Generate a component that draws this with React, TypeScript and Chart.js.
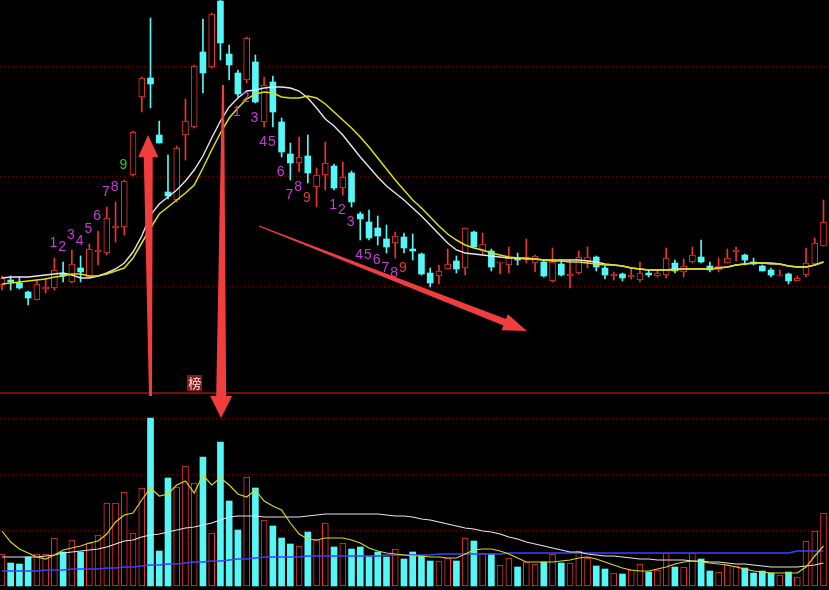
import { useEffect, useRef } from 'react';
import { Chart, registerables } from 'chart.js';

Chart.register(...registerables);

// ---- daily candles (price points) ----
const openP = [331,336,333,324,316,327,328,342,334,348, 339,364,363,388,389,441,519,538,481,424, 416,481,489,564,549,615,562,543,536,554, 494,534,494,462,453,460,429,441,450,428, 443,402,394,388,377,373,379,367,362,343, 340,347,355,348,384,365,365,353,351,358, 357,353,354,335,352,340,343,355,359,348, 340,342,339,336,343,340,341,353,344,354, 359,350,346,353,364,361,354,350,346,340, 342,335,341,352,370];
const closeP = [338,334,328,318,332,329,346,340,352,344, 367,366,398,390,435,484,538,532,473,420, 468,495,550,543,602,573,551,522,578,514, 531,504,464,453,459,443,441,453,428,439, 414,397,378,380,369,380,368,365,342,333, 345,352,347,388,369,372,349,354,358,356, 359,360,340,354,341,342,359,359,349,341, 342,338,341,343,341,343,358,345,350,361, 354,346,350,358,366,356,352,345,341,341, 335,338,353,373,394];
const highP = [340,340,339,325,335,338,358,354,366,360, 372,385,409,414,436,485,539,598,495,461, 470,517,551,597,603,624,571,546,579,561, 539,540,498,473,479,481,448,474,452,454, 445,404,406,400,391,384,383,382,363,348, 351,367,360,388,385,383,367,354,369,363, 377,361,355,368,356,356,365,369,360,350, 344,343,347,354,345,346,368,356,357,369, 376,354,358,367,369,362,358,351,348,346, 343,340,368,378,416];
const lowP = [326,326,327,311,316,323,326,334,333,334, 339,351,361,374,381,440,504,508,473,417, 414,456,488,523,548,556,536,519,533,513, 489,489,459,436,444,433,409,426,426,421, 409,376,376,371,363,358,363,356,341,329, 332,347,343,341,368,361,345,342,343,351, 353,344,339,334,340,328,342,348,345,337, 336,335,337,334,339,339,338,343,339,353, 353,344,344,353,355,351,351,345,339,340, 332,335,339,352,370];

// ---- price moving averages ----
const priceMaFast = [338,339,339,339,340,341,342,343,341,338, 338,340,343,347,353,364,380,401,412,419, 426,435,446,460,478,495,509,518,525,526, 528,529,529,528,525,518,508,497,490,481, 470,459,449,439,430,423,416,408,400,391, 382,373,366,363,362,361,360,359,358,358, 357,357,356,356,356,356,356,355,354,352, 351,350,348,347,346,346,346,347,347,347, 347,347,348,349,351,352,353,353,353,352, 350,349,349,351,354];
const priceMaSlow = [332,333,334,335,336,337,339,340,342,342, 340,340,342,345,348,358,373,388,402,409, 416,423,431,448,466,483,498,508,517,522, 524,523,519,518,518,520,518,512,504,496, 488,479,469,458,447,436,426,416,408,399, 390,382,376,371,368,366,363,361,359,358, 358,357,356,355,355,354,354,353,352,351, 351,350,348,347,346,346,346,346,347,347, 347,347,348,349,351,352,353,353,352,352, 350,349,349,351,354];

// ---- volume and its moving averages ----
const volume = [32,23,22,29,32,32,48,34,46,34, 43,51,83,83,94,53,98,168,35,108, 99,120,103,129,53,144,85,56,109,98, 66,60,48,42,40,54,46,63,39,43, 37,39,30,34,29,37,27,34,30,25, 25,28,25,48,45,33,32,21,28,19, 24,22,24,32,23,23,35,28,20,17, 13,12,16,22,14,16,33,19,19,33, 27,15,14,21,20,18,13,15,13,11, 14,9,45,55,73];
const volMaShort = [55,44,37,33,29,27,31,36,38,40, 43,45,52,64,71,73,86,98,90,92, 101,105,93,111,101,108,101,92,89,96, 85,80,76,63,52,47,46,48,48,48, 46,43,38,35,33,32,31,30,30,29, 29,28,28,32,36,37,37,35,32,28, 24,24,24,24,25,26,28,29,27,24, 21,18,16,15,15,17,19,22,24,25, 24,23,22,21,19,17,15,14,13,13, 13,13,19,30,40];
const volMaMid = [29,29,29,29,29,30,31,33,34,35, 36,37,39,42,45,46,49,51,52,54, 56,58,59,61,63,66,69,70,70,70, 69,69,69,69,69,70,71,72,72,72, 72,72,72,72,71,70,70,69,67,66, 64,62,60,58,57,55,54,52,49,47, 44,42,40,38,36,34,34,32,31,30, 30,29,28,27,27,26,26,26,26,25, 25,24,24,23,22,22,21,20,19,19, 19,19,20,21,23];
const volMaLong = [15,15,15,15,15,16,16,16,17,17, 17,17,18,18,19,19,20,21,21,22, 22,23,24,24,25,25,26,27,27,28, 29,29,29,29,29,30,30,30,30,30, 30,30,30,30,31,31,31,31,31,31, 32,32,32,32,32,32,32,32,33,33, 33,33,33,33,33,33,33,33,33,33, 33,33,33,33,33,33,33,33,33,33, 33,33,33,33,33,33,33,33,33,33, 33,35,35,35,35];

// ---- reference levels ----
const priceGrid = [550, 440, 330];
const volumeGrid = [56, 112, 168];
const volumePanelTop = 193;

// ---- TD sequential counts ----
const buySetupIdx = [6, 7, 8, 9, 10, 11, 12, 13, 14];
const sellSetupIdx1 = [27, 28, 29, 30, 31, 32, 33, 34, 35];
const sellSetupIdx2 = [38, 39, 40, 41, 42, 43, 44, 45, 46];

// ---- annotations (index, price) ----
const arrowFrom = [[17.0, 220], [25.3, 531], [29.42, 390]];
const arrowTo = [[16.72, 481], [25.07, 198], [60.08, 285]];
const tagIndex = 22;
const tagText = '榜';

const UP = '#ec3434';
const DOWN = '#54f6f6';

function drawArrow(ctx: CanvasRenderingContext2D, x1: number, y1: number, x2: number, y2: number,
  tailW: number, shaftW: number, headLen: number, headW: number) {
  const dx = x2 - x1, dy = y2 - y1;
  const len = Math.hypot(dx, dy);
  const ux = dx / len, uy = dy / len;
  const nx = -uy, ny = ux;
  const bx = x2 - ux * headLen, by = y2 - uy * headLen;
  ctx.beginPath();
  ctx.moveTo(x1 + nx * tailW / 2, y1 + ny * tailW / 2);
  ctx.lineTo(bx + nx * shaftW / 2, by + ny * shaftW / 2);
  ctx.lineTo(bx + nx * headW / 2, by + ny * headW / 2);
  ctx.lineTo(x2, y2);
  ctx.lineTo(bx - nx * headW / 2, by - ny * headW / 2);
  ctx.lineTo(bx - nx * shaftW / 2, by - ny * shaftW / 2);
  ctx.lineTo(x1 - nx * tailW / 2, y1 - ny * tailW / 2);
  ctx.closePath();
  ctx.fill();
}

const decorPlugin = {
  id: 'decor',
  beforeDatasetsDraw(chart: any) {
    const { ctx, chartArea, scales } = chart;
    ctx.save();
    ctx.lineWidth = 1;
    ctx.strokeStyle = 'rgb(110,0,0)';
    ctx.setLineDash([1, 3]);
    const hline = (y: number) => {
      const yy = Math.round(y) + 0.5;
      ctx.beginPath();
      ctx.moveTo(chartArea.left, yy);
      ctx.lineTo(chartArea.right, yy);
      ctx.stroke();
    };
    priceGrid.forEach((v) => hline(scales.y.getPixelForValue(v)));
    volumeGrid.forEach((v) => hline(scales.yv.getPixelForValue(v)));
    ctx.setLineDash([]);
    ctx.strokeStyle = 'rgb(150,18,18)';
    ctx.lineWidth = 1.5;
    const sy = Math.round(scales.yv.getPixelForValue(volumePanelTop));
    ctx.beginPath();
    ctx.moveTo(chartArea.left, sy);
    ctx.lineTo(chartArea.right, sy);
    ctx.stroke();
    ctx.restore();
  },
  afterDatasetsDraw(chart: any) {
    const { ctx, scales } = chart;
    const xs = scales.x, ys = scales.y;
    ctx.save();
    ctx.font = '14px "Liberation Sans", Arial, sans-serif';
    ctx.textAlign = 'center';
    ctx.textBaseline = 'middle';
    buySetupIdx.forEach((k, n) => {
      ctx.fillStyle = n === 8 ? '#2ec42e' : '#c83cd8';
      ctx.fillText(String(n + 1), xs.getPixelForValue(k) - 1, ys.getPixelForValue(highP[k]) - 15);
    });
    [sellSetupIdx1, sellSetupIdx2].forEach((arr) => {
      arr.forEach((k, n) => {
        ctx.fillStyle = n === 8 ? '#e23a3a' : '#c83cd8';
        ctx.fillText(String(n + 1), xs.getPixelForValue(k) - 1, ys.getPixelForValue(lowP[k]) + 15);
      });
    });

    // tag above the volume panel
    const sy = Math.round(scales.yv.getPixelForValue(volumePanelTop));
    const tx = xs.getPixelForValue(tagIndex);
    ctx.fillStyle = '#8a1a1a';
    ctx.fillRect(Math.round(tx - 7), sy - 18, 15, 16);
    ctx.fillStyle = '#f4e8e8';
    ctx.font = '13px "Noto Sans CJK SC", sans-serif';
    ctx.fillText(tagText, tx + 0.5, sy - 10);

    // arrows
    ctx.fillStyle = 'rgb(240,62,62)';
    const sizes = [[3, 9, 22, 20], [2, 10, 22, 22], [1, 7, 24, 17]];
    arrowFrom.forEach((f, i) => {
      const t = arrowTo[i];
      const s = sizes[i];
      drawArrow(ctx, xs.getPixelForValue(f[0]), ys.getPixelForValue(f[1]),
        xs.getPixelForValue(t[0]), ys.getPixelForValue(t[1]), s[0], s[1], s[2], s[3]);
    });
    ctx.restore();
  },
};

export default function App() {
  const ref = useRef<HTMLCanvasElement>(null);
  useEffect(() => {
    document.body.style.margin = '0';
    document.body.style.background = '#000';
    const canvas = ref.current!;
    const idx = openP.map((_, i) => i);
    const up = idx.map((i) => closeP[i] >= openP[i]);
    const line = (arr: number[], color: string, axis: string, order: number, w = 1) => ({
      type: 'line' as const,
      data: idx.map((i) => ({ x: i, y: arr[i] })),
      borderColor: color,
      borderWidth: w,
      pointRadius: 0,
      yAxisID: axis,
      order,
    });
    const chart = new Chart(canvas, {
      type: 'bar',
      data: {
        datasets: [
          line(priceMaFast, '#e6e6e6', 'y', 1, 1.4),
          line(priceMaSlow, '#dede10', 'y', 0, 1.5),
          line(volMaShort, '#d8d810', 'yv', 0, 1.2),
          line(volMaMid, '#e4e4e4', 'yv', 1, 1.2),
          line(volMaLong, '#3f3fff', 'yv', 1, 1.3),
          {
            type: 'bar',
            data: idx.map((i) => ({ x: i, y: [lowP[i], highP[i]] })),
            backgroundColor: idx.map((i) => (up[i] ? UP : DOWN)),
            barThickness: 1,
            grouped: false,
            yAxisID: 'y',
            order: 6,
          } as any,
          {
            type: 'bar',
            data: idx.map((i) => ({ x: i, y: [openP[i], closeP[i]] })),
            backgroundColor: idx.map((i) => (up[i] ? '#000000' : DOWN)),
            borderColor: idx.map((i) => (up[i] ? UP : DOWN)),
            borderWidth: idx.map((i) => (up[i] ? 1 : 0)),
            borderSkipped: false,
            barThickness: 6,
            grouped: false,
            yAxisID: 'y',
            order: 5,
          } as any,
          {
            type: 'bar',
            data: idx.map((i) => ({ x: i, y: volume[i] })),
            backgroundColor: idx.map((i) => (up[i] ? '#000000' : DOWN)),
            borderColor: idx.map((i) => (up[i] ? UP : DOWN)),
            borderWidth: idx.map((i) => (up[i] ? 1 : 0)),
            borderSkipped: false,
            barThickness: 6,
            grouped: false,
            yAxisID: 'yv',
            order: 5,
          } as any,
        ],
      },
      options: {
        animation: false,
        responsive: false,
        devicePixelRatio: 1,
        events: [],
        layout: { padding: 0 },
        plugins: { legend: { display: false }, tooltip: { enabled: false } },
        scales: {
          x: { type: 'linear', min: -0.22, max: 94.63, display: false, offset: false },
          y: { type: 'linear', min: 26, max: 616, display: false },
          yv: { type: 'linear', min: -4, max: 586, display: false },
        },
      } as any,
      plugins: [decorPlugin],
    });
    return () => chart.destroy();
  }, []);
  return <canvas ref={ref} width={829} height={590} style={{ display: 'block' }} />;
}
